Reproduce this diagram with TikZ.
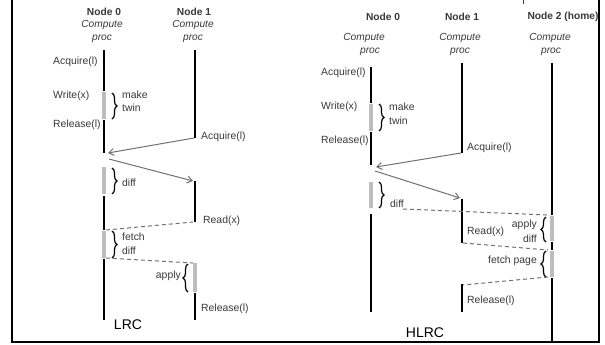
\documentclass[tikz,border=0pt]{standalone}
\usepackage{fontspec}
\setmainfont{Liberation Sans}
\usetikzlibrary{arrows.meta,decorations.pathreplacing}
\definecolor{tg}{HTML}{383838}
\definecolor{seg}{HTML}{BDBDBD}
\definecolor{arr}{HTML}{707070}
\begin{document}
\begin{tikzpicture}[x=1pt,y=-1pt,
  hdr/.style={text=tg,font=\fontsize{10.2}{12}\selectfont\bfseries,inner sep=0pt},
  sub/.style={text=tg,font=\fontsize{10.2}{12}\selectfont\itshape,inner sep=0pt},
  lbl/.style={text=tg,font=\fontsize{10.4}{12}\selectfont,inner sep=0pt},
  ttl/.style={text=black,font=\fontsize{14}{16}\selectfont,inner sep=0pt},
  life/.style={line width=2.6pt,black},
  work/.style={line width=3.2pt,seg},
  msg/.style={arr,line width=1pt,-{Straight Barb[length=5pt,width=7pt]}},
  dlink/.style={arr,line width=1pt,dash pattern=on 4pt off 3pt},
  brc/.style={decorate,decoration={brace,amplitude=5pt},line width=1.2pt,black},
  frame/.style={line width=2.6pt,black}]
\useasboundingbox (0,0) rectangle (605,345);

% frame
\draw[frame] (12,0) -- (12,342) -- (599,342) -- (599,0);
\draw[line width=1pt,tg] (523,0) -- (523,4);

% ================= LRC =================
\node[hdr] (l0h) at (104,12) {Node 0};
\node[sub] (l0c) at (102,25) {Compute};
\node[sub] (l0p) at (102,39) {proc};
\node[hdr] (l1h) at (194,12) {Node 1};
\node[sub] (l1c) at (193,25) {Compute};
\node[sub] (l1p) at (193,39) {proc};

% node 0 lifeline
\draw[life] (104,50) -- (104,91);
\draw[work] (104,92) -- (104,119);
\draw[life] (104,120) -- (104,153);
\draw[work] (104,167) -- (104,194);
\draw[life] (104,196) -- (104,230);
\draw[work] (104,231) -- (104,258);
\draw[life] (104,259) -- (104,320);
% node 1 lifeline
\draw[life] (195,50) -- (195,138);
\draw[life] (195,181) -- (195,222);
\draw[work] (195,263) -- (195,292);
\draw[life] (195,293) -- (195,320);

% messages
\coordinate (la1s) at (194,138);
\coordinate (la1e) at (108,153);
\draw[msg] (la1s) -- (la1e);
\coordinate (la2s) at (109,159);
\coordinate (la2e) at (193,181);
\draw[msg] (la2s) -- (la2e);
\coordinate (ld1a) at (106,230);
\coordinate (ld1b) at (193,222);
\draw[dlink] (ld1a) -- (ld1b);
\coordinate (ld2a) at (106,258);
\coordinate (ld2b) at (193,263);
\draw[dlink] (ld2a) -- (ld2b);

% braces
\draw[brc] (112,93) -- (112,119);
\node[lbl,anchor=west] (lmk) at (122,95) {make};
\node[lbl,anchor=west] (ltw) at (122,108) {twin};
\draw[brc] (112,168) -- (112,194);
\node[lbl,anchor=west] (ldf) at (122,183) {diff};
\draw[brc] (112,231) -- (112,258);
\node[lbl,anchor=west] (lfe) at (122,237) {fetch};
\node[lbl,anchor=west] (lfd) at (122,251) {diff};
\draw[brc] (188,292) -- (188,264);
\node[lbl,anchor=east] (lap) at (181,276) {apply};

% labels
\node[lbl,anchor=west] (lacq0) at (53,62) {Acquire(l)};
\node[lbl,anchor=west] (lwr0) at (53,96) {Write(x)};
\node[lbl,anchor=west] (lrel0) at (53,125) {Release(l)};
\node[lbl,anchor=west] (lacq1) at (201,137) {Acquire(l)};
\node[lbl,anchor=west] (lrd1) at (203,221) {Read(x)};
\node[lbl,anchor=west] (lrel1) at (201,309) {Release(l)};
\node[ttl] (lrc) at (128,325) {LRC};

% ================= HLRC =================
\node[hdr] (r0h) at (383,17) {Node 0};
\node[sub] (r0c) at (364,38) {Compute};
\node[sub] (r0p) at (370,52) {proc};
\node[hdr] (r1h) at (462,17) {Node 1};
\node[sub] (r1c) at (460,38) {Compute};
\node[sub] (r1p) at (460,52) {proc};
\node[hdr] (r2h) at (563,17) {Node 2 (home)};
\node[sub] (r2c) at (550,38) {Compute};
\node[sub] (r2p) at (551,52) {proc};

% node 0
\draw[life] (371,67) -- (371,103);
\draw[work] (371,104) -- (371,131);
\draw[life] (371,132) -- (371,165);
\draw[work] (371,182) -- (371,208);
\draw[life] (371,214) -- (371,312);
% node 1
\draw[life] (462,63) -- (462,153);
\draw[life] (462,199) -- (462,243);
\draw[life] (462,284) -- (462,312);
% node 2
\draw[life] (552,63) -- (552,215);
\draw[work] (552,216) -- (552,241);
\draw[life] (552,242) -- (552,250);
\draw[work] (552,251) -- (552,277);
\draw[life] (552,278) -- (552,342);

% messages
\coordinate (ra1s) at (461,153);
\coordinate (ra1e) at (376,167);
\draw[msg] (ra1s) -- (ra1e);
\coordinate (ra2s) at (375,171);
\coordinate (ra2e) at (460,198);
\draw[msg] (ra2s) -- (ra2e);
\coordinate (rd1a) at (403,209);
\coordinate (rd1b) at (548,215);
\draw[dlink] (rd1a) -- (rd1b);
\coordinate (rd2a) at (463,243);
\coordinate (rd2b) at (548,250);
\draw[dlink] (rd2a) -- (rd2b);
\coordinate (rd3a) at (548,277);
\coordinate (rd3b) at (463,285);
\draw[dlink] (rd3a) -- (rd3b);

% braces
\draw[brc] (379,104) -- (379,131);
\node[lbl,anchor=west] (rmk) at (389,107) {make};
\node[lbl,anchor=west] (rtw) at (389,121) {twin};
\draw[brc] (379,182) -- (379,208);
\node[lbl,anchor=west] (rdf) at (390,204) {diff};
\draw[brc] (546,242) -- (546,217);
\node[lbl,anchor=east] (rap) at (537,225) {apply};
\node[lbl,anchor=east] (rad) at (537,239) {diff};
\draw[brc] (546,277) -- (546,251);
\node[lbl,anchor=east] (rfp) at (537,261) {fetch page};

% labels
\node[lbl,anchor=west] (racq0) at (321,73) {Acquire(l)};
\node[lbl,anchor=west] (rwr0) at (321,107) {Write(x)};
\node[lbl,anchor=west] (rrel0) at (321,141) {Release(l)};
\node[lbl,anchor=west] (racq1) at (467,148) {Acquire(l)};
\node[lbl,anchor=west] (rrd1) at (467,232) {Read(x)};
\node[lbl,anchor=west] (rrel1) at (467,301) {Release(l)};
\node[ttl] (hlrc) at (425,333) {HLRC};
\end{tikzpicture}
\end{document}
